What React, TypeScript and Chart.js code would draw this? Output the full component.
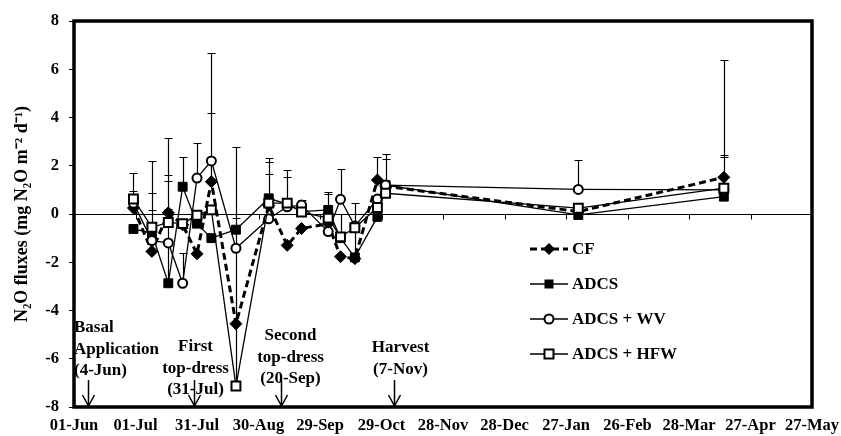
import React, { useEffect, useRef } from 'react';
import { Chart, registerables } from 'chart.js';

Chart.register(...registerables);

// ---- data ----
const tickLabels = ['01-Jun', '01-Jul', '31-Jul', '30-Aug', '29-Sep', '29-Oct', '28-Nov', '28-Dec', '27-Jan', '26-Feb', '28-Mar', '27-Apr', '27-May'];
// sampling dates, as days after 01-Jun
const sampleDays = [29, 38, 46, 53, 60, 67, 79, 95, 104, 111, 124, 130, 137, 148, 152, 246, 317];

const seriesNames = ['CF', 'ADCS', 'ADCS + WV', 'ADCS + HFW'];

const cfValues = [0.25, -1.55, 0.05, -0.45, -1.65, 1.34, -4.55, 0.35, -1.3, -0.6, -0.4, -1.77, -1.85, 1.41, 1.15, 0.1, 1.52];
const adcsValues = [-0.62, -0.8, -2.87, 1.13, -0.4, -1.0, -0.65, 0.65, 0.41, 0.1, 0.17, -1.0, -1.8, -0.12, 1.2, -0.04, 0.72];
const wvValues = [0.45, -1.1, -1.2, -2.87, 1.49, 2.2, -1.42, -0.2, 0.3, 0.37, -0.73, 0.61, -0.5, 0.62, 1.2, 1.02, 1.0];
const hfwValues = [0.62, -0.55, -0.35, -0.4, -0.05, 0.17, -7.13, 0.45, 0.45, 0.08, -0.17, -0.95, -0.57, 0.27, 0.86, 0.24, 1.07];

// upper error bars
const cfErr = [0.7, 1.72, 0.16, 0, 0, 2.83, 0, 1.31, 0, 0, 0, 0, 0, 0.96, 1.15, 0, 4.86];
const adcsErr = [0, 1.67, 4.22, 1.24, 0, 0, 0.5, 1.68, 1.41, 0, 0.74, 1.0, 1.2, 0, 1.29, 0.3, 1.64];
const wvErr = [0, 0, 4.35, 1.27, 1.45, 4.47, 0, 0, 0, 0.2, 0, 1.26, 0, 0, 0, 1.22, 0];
const hfwErr = [1.1, 2.75, 1.98, 0, 0, 0, 9.92, 1.72, 1.08, 0, 1.0, 0, 1.04, 0, 0, 0.1, 1.38];

const yTitle = 'N\u2082O fluxes (mg N\u2082O m\u207B\u00B2 d\u207B\u00B9)';

// events (days after 01-Jun) with their text
const eventDays = [7, 58.5, 101, 156];
const eventTexts = [
  ['Basal', 'Application', '(4-Jun)'],
  ['First', 'top-dress', '(31-Jul)'],
  ['Second', 'top-dress', '(20-Sep)'],
  ['Harvest', '(7-Nov)'],
];

const FONT = '"Liberation Serif", "Times New Roman", serif';
const errorSets = [cfErr, adcsErr, wvErr, hfwErr];
const valueSets = [cfValues, adcsValues, wvValues, hfwValues];

function drawMarker(ctx: CanvasRenderingContext2D, kind: number, x: number, y: number) {
  ctx.save();
  ctx.setLineDash([]);
  ctx.strokeStyle = '#000';
  ctx.beginPath();
  if (kind === 0) {
    ctx.fillStyle = '#000';
    ctx.moveTo(x, y - 6); ctx.lineTo(x + 6, y); ctx.lineTo(x, y + 6); ctx.lineTo(x - 6, y); ctx.closePath();
    ctx.fill();
  } else if (kind === 1) {
    ctx.fillStyle = '#000';
    ctx.rect(x - 4.5, y - 4.5, 9, 9);
    ctx.fill();
  } else if (kind === 2) {
    ctx.fillStyle = '#fff';
    ctx.lineWidth = 2;
    ctx.arc(x, y, 4.5, 0, Math.PI * 2);
    ctx.fill(); ctx.stroke();
  } else {
    ctx.fillStyle = '#fff';
    ctx.lineWidth = 2;
    ctx.rect(x - 4.5, y - 4.5, 9, 9);
    ctx.fill(); ctx.stroke();
  }
  ctx.restore();
}

const overlayPlugin = {
  id: 'overlay',
  beforeDatasetsDraw(chart: any) {
    const { ctx, chartArea: ca, scales } = chart;
    const x = scales.x, y = scales.y;
    const y0 = Math.round(y.getPixelForValue(0)) + 0.5;
    ctx.save();
    ctx.strokeStyle = '#000';
    ctx.lineWidth = 1;
    ctx.beginPath();
    ctx.moveTo(ca.left, y0); ctx.lineTo(ca.right, y0);
    x.ticks.forEach((t: any) => {
      const px = Math.round(x.getPixelForValue(t.value)) + 0.5;
      ctx.moveTo(px, y0); ctx.lineTo(px, y0 + 5);
    });
    ctx.stroke();
    // error bars
    ctx.lineWidth = 1.2;
    ctx.beginPath();
    errorSets.forEach((errs, i) => {
      errs.forEach((e, j) => {
        if (!e) return;
        const px = Math.round(x.getPixelForValue(sampleDays[j])) + 0.5;
        const p1 = y.getPixelForValue(valueSets[i][j]);
        const p2 = Math.round(y.getPixelForValue(valueSets[i][j] + e)) + 0.5;
        ctx.moveTo(px, p1); ctx.lineTo(px, p2);
        ctx.moveTo(px - 4, p2); ctx.lineTo(px + 4, p2);
      });
    });
    ctx.stroke();
    ctx.restore();
  },
  afterDraw(chart: any) {
    const { ctx, chartArea: ca, scales } = chart;
    const x = scales.x;
    ctx.save();
    // frame
    ctx.strokeStyle = '#000';
    ctx.lineWidth = 3.5;
    ctx.strokeRect(ca.left, ca.top, ca.right - ca.left, ca.bottom - ca.top);

    // legend
    const lx1 = ca.left + 456, lx2 = ca.left + 494, lm = ca.left + 475, lt = ca.left + 498;
    ctx.font = `bold 17px ${FONT}`;
    ctx.textBaseline = 'middle';
    ctx.textAlign = 'left';
    seriesNames.forEach((name, i) => {
      const ry = ca.top + 228 + i * 35;
      ctx.save();
      ctx.strokeStyle = '#000';
      if (i === 0) { ctx.lineWidth = 3; ctx.setLineDash([7, 4]); } else { ctx.lineWidth = 1.3; }
      ctx.beginPath(); ctx.moveTo(lx1, ry); ctx.lineTo(lx2, ry); ctx.stroke();
      ctx.restore();
      drawMarker(ctx, i, lm, ry);
      ctx.fillStyle = '#000';
      ctx.fillText(name, lt, ry + 1);
    });

    // event arrows and text
    const textOffsetX = [0, 1, 9, 6];
    const textTopY = [-79, -60, -71, -59];
    ctx.strokeStyle = '#000';
    ctx.lineWidth = 1.5;
    eventDays.forEach((d, i) => {
      const ax = Math.round(x.getPixelForValue(d)) + 0.5;
      ctx.beginPath();
      ctx.moveTo(ax, ca.bottom - 27); ctx.lineTo(ax, ca.bottom - 1);
      ctx.moveTo(ax - 6, ca.bottom - 12); ctx.lineTo(ax, ca.bottom - 1); ctx.lineTo(ax + 6, ca.bottom - 12);
      ctx.stroke();
      ctx.fillStyle = '#000';
      ctx.font = `bold 17px ${FONT}`;
      ctx.textBaseline = 'middle';
      eventTexts[i].forEach((line, k) => {
        const ty = ca.bottom + textTopY[i] + k * 21.5;
        if (i === 0) {
          ctx.textAlign = 'left';
          ctx.fillText(line, ca.left, ty);
        } else {
          ctx.textAlign = 'center';
          ctx.fillText(line, ax + textOffsetX[i], ty);
        }
      });
    });
    ctx.restore();
  },
};

export default function App() {
  const ref = useRef<HTMLCanvasElement | null>(null);
  useEffect(() => {
    if (!ref.current) return;
    Chart.defaults.color = '#000';
    const mk = (i: number) => sampleDays.map((d, j) => ({ x: d, y: valueSets[i][j] }));
    const chart = new Chart(ref.current, {
      type: 'line',
      data: {
        datasets: [
          {
            label: seriesNames[0], data: mk(0), order: 4,
            borderColor: '#000', backgroundColor: '#000', borderWidth: 3, borderDash: [7, 4],
            pointStyle: 'rectRot', pointRadius: 6, pointBackgroundColor: '#000', pointBorderColor: '#000', pointBorderWidth: 1,
          },
          {
            label: seriesNames[1], data: mk(1), order: 3,
            borderColor: '#000', backgroundColor: '#000', borderWidth: 1.3,
            pointStyle: 'rect', pointRadius: 6.3, pointBackgroundColor: '#000', pointBorderColor: '#000', pointBorderWidth: 1,
          },
          {
            label: seriesNames[2], data: mk(2), order: 2,
            borderColor: '#000', backgroundColor: '#fff', borderWidth: 1.3,
            pointStyle: 'circle', pointRadius: 4.5, pointBackgroundColor: '#fff', pointBorderColor: '#000', pointBorderWidth: 2,
          },
          {
            label: seriesNames[3], data: mk(3), order: 1,
            borderColor: '#000', backgroundColor: '#fff', borderWidth: 1.3,
            pointStyle: 'rect', pointRadius: 6.3, pointBackgroundColor: '#fff', pointBorderColor: '#000', pointBorderWidth: 2,
          },
        ],
      },
      options: {
        responsive: false,
        animation: false,
        devicePixelRatio: 1,
        events: [],
        clip: false as any,
        layout: { padding: { top: 21, right: 29, left: 0, bottom: 0 } },
        plugins: { legend: { display: false }, tooltip: { enabled: false } },
        elements: { line: { tension: 0 } },
        scales: {
          x: {
            type: 'linear', min: 0, max: 360,
            grid: { display: false },
            border: { display: false },
            ticks: {
              stepSize: 30, autoSkip: false, maxRotation: 0, minRotation: 0, padding: 1,
              font: { family: FONT, weight: 'bold', size: 16.5 }, color: '#000',
              callback: (v: any) => tickLabels[Math.round(Number(v) / 30)] ?? '',
            },
            afterFit: (s: any) => { s.height = 29; },
          },
          y: {
            min: -8, max: 8,
            grid: { display: true, drawOnChartArea: false, drawTicks: true, tickLength: 5, color: '#000' },
            border: { display: false },
            ticks: { stepSize: 2, padding: 10, font: { family: FONT, weight: 'bold', size: 16.5 }, color: '#000' },
            title: { display: true, text: yTitle, font: { family: FONT, weight: 'bold', size: 18 }, color: '#000', padding: { top: 12, bottom: 0 } },
            afterFit: (s: any) => { s.width = 74; },
          },
        },
      } as any,
      plugins: [overlayPlugin],
    });
    return () => chart.destroy();
  }, []);
  return (
    <div style={{ position: 'fixed', left: 0, top: 0, width: 841, height: 436, background: '#fff' }}>
      <canvas ref={ref} width={841} height={436} style={{ display: 'block' }} />
    </div>
  );
}
